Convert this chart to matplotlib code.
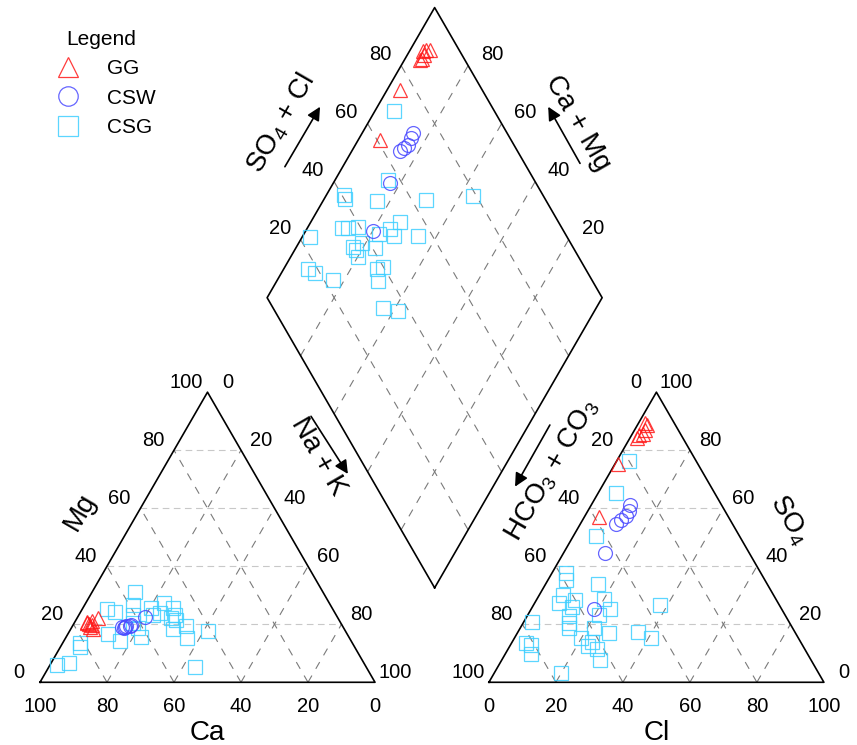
"""Piper diagram: GG, CSW, CSG"""

import numpy as np
import matplotlib
matplotlib.use('Agg')
import matplotlib.pyplot as plt
from matplotlib.lines import Line2D

plt.rcParams['font.family'] = ['Liberation Sans', 'DejaVu Sans']

# ---- Cation triangle (% meq): Ca, Mg  (Na + K = 100 - Ca - Mg) ----
gg_ca = [75.5, 75.4, 75.0, 71.6, 75.3, 74.6, 75.8, 73.9]
gg_mg = [20.8, 19.1, 18.2, 22.0, 20.1, 19.6, 20.4, 21.0]
csw_ca = [66.1, 65.1, 64.5, 63.5, 62.9, 65.5, 57.4]
csw_mg = [19.1, 19.1, 19.4, 19.4, 19.7, 18.8, 22.6]
csg_ca = [56.1, 67.5, 65.5, 58.9, 60.6, 54.0, 49.2, 47.6, 48.2, 54.6, 49.8, 48.6, 46.6, 51.2,
          48.7, 41.0, 71.5, 69.0, 61.9, 81.4, 82.0, 91.9, 88.1, 51.0, 62.1, 61.4, 52.4]
csg_mg = [31.2, 25.1, 24.3, 26.6, 23.2, 25.5, 27.5, 25.5, 23.2, 23.2, 22.0, 21.4, 19.4, 18.2,
          15.1, 17.8, 16.5, 14.3, 15.7, 13.4, 12.2, 6.0, 6.5, 5.2, 20.3, 18.6, 23.8]

# ---- Anion triangle (% meq): Cl, SO4  (HCO3 + CO3 = 100 - Cl - SO4) ----
gg_cl = [1.9, 2.9, 3.1, 2.4, 2.1, 3.2, 1.1, 4.4]
gg_so4 = [89.5, 88.6, 87.0, 85.1, 84.3, 85.5, 75.1, 57.0]
csw_cl = [11.6, 12.5, 12.3, 11.5, 10.6, 12.4, 18.7]
csw_so4 = [61.1, 58.9, 57.3, 55.8, 54.7, 44.4, 25.2]
csg_cl = [3.7, 5.3, 6.8, 4.1, 5.3, 15.7, 6.9, 7.3, 11.5, 11.9, 20.0, 23.6, 21.3, 2.5, 12.6, 14.6,
          22.1, 27.5, 37.8, 35.7, 40.8, 4.1, 6.0, 7.6, 19.9, 23.2, 26.5, 29.4, 19.8, 13.7, 23.8]
csg_so4 = [76.3, 65.3, 50.3, 37.7, 35.4, 33.9, 30.2, 27.3, 28.4, 26.1, 28.7, 25.2, 23.3, 20.9, 22.7, 18.7,
           18.7, 16.9, 26.7, 17.5, 15.2, 13.7, 12.9, 9.8, 15.2, 12.5, 11.4, 7.7, 3.3, 20.5, 13.9]

# ---- Diamond: SO4 + Cl, Ca + Mg ----
gg_s = [88.9, 90.2, 91.4, 86.5, 87.3, 88.7, 75.5, 61.0]
gg_p = [96.0, 95.3, 94.1, 95.5, 94.9, 95.0, 96.1, 93.4]
csw_s = [71.9, 70.4, 68.5, 66.7, 64.9, 56.5, 43.3]
csw_p = [84.9, 84.6, 84.2, 84.9, 85.5, 83.0, 79.8]
csg_s = [70.1, 56.5, 40.7, 40.2, 49.3, 64.3, 79.1, 23.1, 34.4, 36.2, 39.1, 48.4, 52.7, 48.5, 55.6,
         34.3, 37.8, 34.3, 40.9, 17.0, 18.6, 22.9, 37.7, 39.9, 36.0, 33.0, 36.6, 44.2, 34.7]
csg_p = [94.3, 84.1, 94.7, 93.8, 83.9, 69.5, 56.1, 97.8, 89.6, 87.8, 85.1, 75.3, 73.3, 72.6, 65.8,
         83.2, 81.0, 79.8, 76.4, 92.8, 89.9, 83.3, 72.2, 70.8, 69.6, 63.6, 58.7, 77.6, 81.9]

ticks = [0, 20, 40, 60, 80, 100]

# Hinh hoc
H = np.sqrt(3) / 2
RX0 = 134.0              # goc trai tam giac anion
DX0, DY0 = 117.8, 28.2   # dinh duoi hinh thoi


def cation_xy(ca, mg):
    ca, mg = np.asarray(ca, float), np.asarray(mg, float)
    nak = 100 - ca - mg
    return nak + mg / 2, mg * H


def anion_xy(cl, so4):
    cl, so4 = np.asarray(cl, float), np.asarray(so4, float)
    return RX0 + cl + so4 / 2, so4 * H


def diamond_xy(s, p):
    s, p = np.asarray(s, float), np.asarray(p, float)
    return DX0 + (s - p) / 2, DY0 + (s + p) * H


fig = plt.figure(figsize=(8.57, 7.45), dpi=100)
ax = fig.add_axes([0, 0, 1, 1])
ax.set_xlim(-11.94, 243.88)
ax.set_ylim(-18.72, 203.67)
ax.axis('off')

light = dict(color='#c8c8c8', lw=0.8, dashes=(6, 4))
dark = dict(color='#7a7a7a', lw=0.8, dashes=(7, 7))

# Luoi tam giac
for v in [20, 40, 60, 80]:
    ax.plot(*cation_xy([100 - v, 0], [v, v]), **light)
    ax.plot(*cation_xy([v, v], [0, 100 - v]), **dark)
    ax.plot(*cation_xy([100 - v, 0], [0, 100 - v]), **dark)
    ax.plot(*anion_xy([0, 100 - v], [v, v]), **light)
    ax.plot(*anion_xy([v, v], [0, 100 - v]), **dark)
    ax.plot(*anion_xy([100 - v, 0], [0, 100 - v]), **dark)
    ax.plot(*diamond_xy([v, v], [0, 100]), **dark)
    ax.plot(*diamond_xy([0, 100], [v, v]), **dark)

# Khung
ax.plot(*cation_xy([100, 0, 0, 100], [0, 0, 100, 0]), color='black', lw=1.2)
ax.plot(*anion_xy([0, 100, 0, 0], [0, 0, 100, 0]), color='black', lw=1.2)
ax.plot(*diamond_xy([0, 100, 100, 0, 0], [0, 0, 100, 100, 0]), color='black', lw=1.2)

# Nhan truc
tk = dict(fontsize=14.5, ha='center', va='center', textcoords='offset pixels')
for v in ticks:
    ax.annotate(str(v), cation_xy(100 - v, v), xytext=(-21, 10), **tk)
    ax.annotate(str(v), cation_xy(0, 100 - v), xytext=(20, 10), **tk)
    ax.annotate(str(v), cation_xy(v, 0), xytext=(0, -24), **tk)
    ax.annotate(str(v), anion_xy(0, 100 - v), xytext=(-21, 10), **tk)
    ax.annotate(str(v), anion_xy(100 - v, v), xytext=(20, 10), **tk)
    ax.annotate(str(v), anion_xy(v, 0), xytext=(0, -24), **tk)
for v in [20, 40, 60, 80]:
    ax.annotate(str(v), diamond_xy(v, 100), xytext=(-21, 11), **tk)
    ax.annotate(str(v), diamond_xy(100, v), xytext=(24, 11), **tk)

lab = dict(fontsize=20, ha='center', va='center')
ax.text(50, -15.1, 'Ca', **lab)
ax.text(RX0 + 50, -15.1, 'Cl', **lab)
ax.text(12.0, 50.9, 'Mg', rotation=60, **lab)
ax.text(83.0, 67.5, 'Na + K', rotation=-60, **lab)
ax.text(152.8, 63.4, r'HCO$_\mathregular{3}$ + CO$_\mathregular{3}$', rotation=60, **lab)
ax.text(223.6, 48.4, r'SO$_\mathregular{4}$', rotation=-60, **lab)
ax.text(71.9, 166.9, r'SO$_\mathregular{4}$ + Cl', rotation=60, **lab)
ax.text(160.6, 166.9, 'Ca + Mg', rotation=-60, **lab)

# Mui ten
arr = dict(arrowstyle='-|>', color='black', lw=1.2, mutation_scale=20, shrinkA=0, shrinkB=0)
ax.annotate('', xy=(91.9, 62.2), xytext=(80.9, 79.4), arrowprops=arr)
ax.annotate('', xy=(141.8, 58.4), xytext=(152.2, 76.8), arrowprops=arr)
ax.annotate('', xy=(83.6, 171.8), xytext=(73.1, 153.9), arrowprops=arr)
ax.annotate('', xy=(151.7, 171.8), xytext=(161.2, 154.9), arrowprops=arr)

# Diem
styles = {
    'GG': dict(marker='^', mec='#ff1a1a'),
    'CSW': dict(marker='o', mec='#4a4aff'),
    'CSG': dict(marker='s', mec='#3fcfff'),
}
mk = dict(ls='none', mfc='none', ms=10, mew=0.9, alpha=0.85)
groups = [
    ('CSG', csg_ca, csg_mg, csg_cl, csg_so4, csg_s, csg_p),
    ('CSW', csw_ca, csw_mg, csw_cl, csw_so4, csw_s, csw_p),
    ('GG', gg_ca, gg_mg, gg_cl, gg_so4, gg_s, gg_p),
]
for name, ca, mg, cl, so4, s, p in groups:
    ax.plot(*cation_xy(ca, mg), **styles[name], **mk)
    ax.plot(*anion_xy(cl, so4), **styles[name], **mk)
    ax.plot(*diamond_xy(s, p), **styles[name], **mk)

handles = [Line2D([], [], **styles[n], **mk) for n in ['GG', 'CSW', 'CSG']]
leg = ax.legend(handles, ['GG', 'CSW', 'CSG'], title='Legend', frameon=False,
                loc='upper left', bbox_to_anchor=(28 / 857, 1 - 11 / 745),
                bbox_transform=fig.transFigure, fontsize=15, title_fontsize=15,
                markerscale=1.4, labelspacing=0.5, handletextpad=0.88)

fig.savefig('out.png', dpi=100)
